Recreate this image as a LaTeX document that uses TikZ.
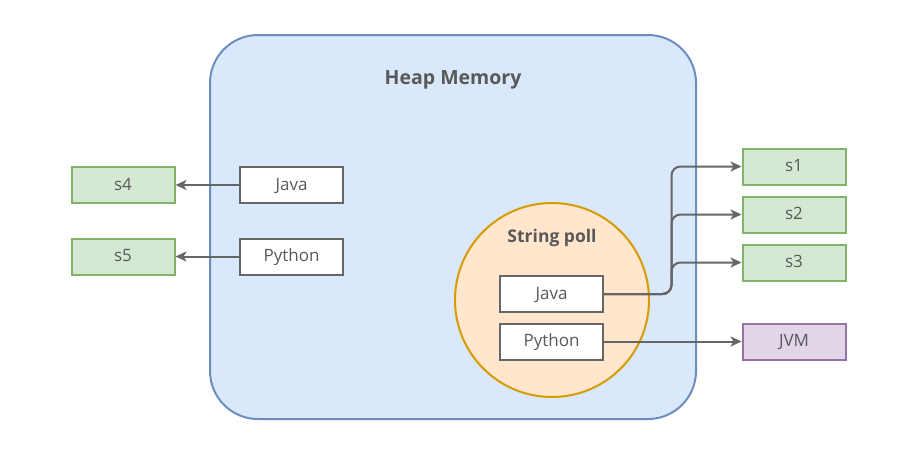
\documentclass[tikz,border=0pt]{standalone}
\usepackage{fontspec}
\setmainfont{Open Sans}
\usetikzlibrary{arrows.meta}
\definecolor{heapfill}{HTML}{DAE8FC}
\definecolor{heapline}{HTML}{6C8EBF}
\definecolor{poolfill}{HTML}{FFE6CC}
\definecolor{poolline}{HTML}{D79B00}
\definecolor{reffill}{HTML}{D5E8D4}
\definecolor{refline}{HTML}{82B366}
\definecolor{jvmfill}{HTML}{E1D5E7}
\definecolor{jvmline}{HTML}{9673A6}
\definecolor{txt}{HTML}{595959}
\definecolor{gline}{HTML}{666666}
\begin{document}
\begin{tikzpicture}[x=1pt,y=-1pt]
\tikzset{str/.style={draw=gline,fill=white,line width=2pt,
                     minimum width=103pt,minimum height=36pt,
                     inner sep=0pt,text=txt,font=\fontsize{17}{19}\selectfont,
                     text height=12pt,text depth=2pt},
         ref/.style={str,draw=refline,fill=reffill},
         arr/.style={-{Stealth[length=11pt,width=10pt,inset=3pt]},draw=gline,line width=2pt}
}
\useasboundingbox (0,0) rectangle (909,453);
\node[draw=heapline,fill=heapfill,line width=2pt,rounded corners=48pt,
      minimum width=486pt,minimum height=384pt] (H) at (453,227) {};
\node[text=txt,font=\bfseries\fontsize{19.5}{22}\selectfont] (ht) at (453,80) {Heap Memory};
\node[circle,draw=poolline,fill=poolfill,line width=2pt,
      minimum size=194pt] (P) at (552,300) {};
\node[text=txt,font=\bfseries\fontsize{17.5}{20}\selectfont] (pt) at (552,238) {String poll};
% objets du tas
\node[str] (hj) at (291.5,185)   {Java};
\node[str] (hp) at (291.5,256.5) {Python};
\node[str] (pj) at (551.5,294)   {Java};
\node[str] (pp) at (551.5,341.5) {Python};
% references
\node[ref] (s4) at (123,185)   {s4};
\node[ref] (s5) at (123,256.5) {s5};
\node[ref] (s1) at (794,166.5) {s1};
\node[ref] (s2) at (794,214.5) {s2};
\node[ref] (s3) at (794,262.5) {s3};
\node[ref,draw=jvmline,fill=jvmfill] (jvm) at (794,341.5) {JVM};
\draw[arr] (hj) -- (s4);
\draw[arr] (hp) -- (s5);
\draw[arr,rounded corners=9pt] (pj.east) -| ([xshift=-70pt]s1.west) -- (s1.west);
\draw[arr,rounded corners=9pt] (pj.east) -| ([xshift=-70pt]s2.west) -- (s2.west);
\draw[arr,rounded corners=9pt] (pj.east) -| ([xshift=-70pt]s3.west) -- (s3.west);
\draw[arr] (pp) -- (jvm);
\end{tikzpicture}
\end{document}
